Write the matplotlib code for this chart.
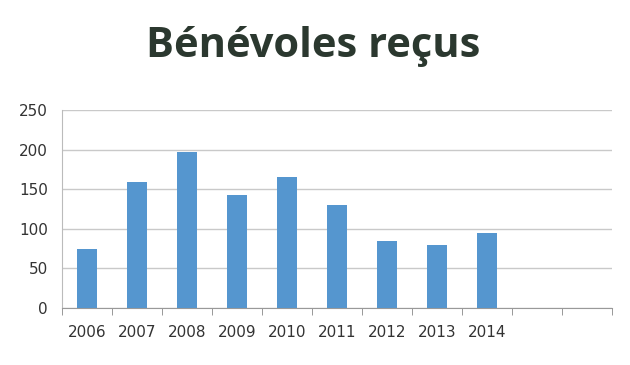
import matplotlib.pyplot as plt
import numpy as np

years = ['2006', '2007', '2008', '2009', '2010', '2011', '2012', '2013', '2014']
benevoles = [75, 159, 197, 143, 165, 130, 84, 80, 95]
n_slots = 11  # chart keeps two empty slots on the right
y_ticks = [0, 50, 100, 150, 200, 250]

BAR_COLOR = '#5596cf'
GRID_COLOR = '#c9c9c9'
TEXT_COLOR = '#333333'

# =====================================================================
fig = plt.figure(figsize=(6.3, 3.65), dpi=100)
ax = fig.add_axes([0.0984, 0.156, 0.873, 0.543])

x = np.arange(len(years))
ax.bar(x, benevoles, width=0.39, color=BAR_COLOR, zorder=3)

ax.set_xlim(-0.5, n_slots - 0.5)
ax.set_ylim(0, 250)
ax.set_yticks(y_ticks)
ax.set_xticks(x)
ax.set_xticklabels(years)
ax.set_xticks(np.arange(-0.5, n_slots), minor=True)

ax.tick_params(axis='x', which='major', length=0, pad=12, labelsize=11, labelcolor=TEXT_COLOR)
ax.tick_params(axis='x', which='minor', length=5, color='#888888', direction='out')
ax.tick_params(axis='y', length=0, pad=10, labelsize=11, labelcolor=TEXT_COLOR)

ax.grid(axis='y', color=GRID_COLOR, linewidth=1, zorder=0)
for side in ['top', 'right']:
    ax.spines[side].set_visible(False)
ax.spines['left'].set_color('#bbbbbb')
ax.spines['bottom'].set_color('#999999')

fig.text(0.497, 0.872, 'Bénévoles reçus', ha='center', va='center',
         fontsize=30, fontweight='bold', color='#2b382f', family='Open Sans')

plt.savefig('out.png', dpi=100)
